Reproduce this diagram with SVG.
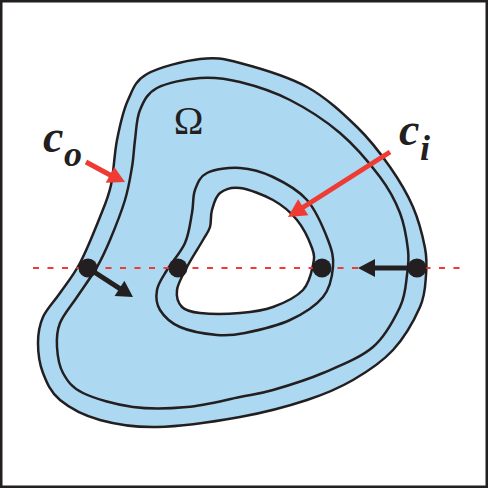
<svg xmlns="http://www.w3.org/2000/svg" width="489" height="489" viewBox="0 0 489 489">
<defs>
<style>
.curve{fill:none;stroke:#231f20;stroke-width:2.5;stroke-linejoin:round}
.lbl{font-family:"Liberation Serif","DejaVu Serif",serif;font-weight:bold;font-style:italic;fill:#231f20}
.omega{font-family:"Liberation Serif","DejaVu Serif",serif;fill:#231f20}
.red{stroke:#ee3b33;stroke-width:5;fill:none}
.redhead{fill:#ee3b33}
.blk{stroke:#231f20;stroke-width:5;fill:none}
.blkhead{fill:#231f20}
.dot{fill:#231f20}
</style>
</defs>
<rect x="0" y="0" width="489" height="489" fill="#ffffff"/>
<g id="domain">
<path fill="#acd8f2" fill-rule="evenodd" stroke="none" d="M 200,59 C 215.5,57.2 222.2,58.3 240,63 C 257.8,67.7 287.5,76.3 307,87 C 326.5,97.7 343.2,113.7 357,127 C 370.8,140.3 380.7,153.7 390,167 C 399.3,180.3 407.2,193.5 413,207 C 418.8,220.5 422.8,236.7 425,248 C 427.2,259.3 426.8,265.2 426,275 C 425.2,284.8 425.5,294.5 420,307 C 414.5,319.5 404.2,337.8 393,350 C 381.8,362.2 367.3,371.7 353,380 C 338.7,388.3 325.8,393.8 307,400 C 288.2,406.2 265,412.5 240,417 C 215,421.5 180.3,426.5 157,427 C 133.7,427.5 116.2,424.5 100,420 C 83.8,415.5 69.5,407.8 60,400 C 50.5,392.2 46.7,382.5 43,373 C 39.3,363.5 38,352.3 38,343 C 38,333.7 39.3,325.3 43,317 C 46.7,308.7 53.8,302 60,293 C 66.2,284 73.3,275.7 80,263 C 86.7,250.3 94.8,230 100,217 C 105.2,204 108.2,197.8 111,185 C 113.8,172.2 114.2,154.2 117,140 C 119.8,125.8 123,111 128,100 C 133,89 135,80.8 147,74 C 159,67.2 184.5,60.8 200,59 Z M 240,188 C 248.8,189.2 263.5,194.7 273,200 C 282.5,205.3 290.5,212 297,220 C 303.5,228 309.3,240.5 312,248 C 314.7,255.5 314.5,258 313,265 C 311.5,272 309.7,283 303,290 C 296.3,297 283.5,303.2 273,307 C 262.5,310.8 252.2,312 240,313 C 227.8,314 209.7,314 200,313 C 190.3,312 185.8,310.8 182,307 C 178.2,303.2 176.2,296.7 177,290 C 177.8,283.3 182.7,275.3 187,267 C 191.3,258.7 199.2,246.7 203,240 C 206.8,233.3 208.5,232 210,227 C 211.5,222 210.3,215.7 212,210 C 213.7,204.3 215.3,196.7 220,193 C 224.7,189.3 231.2,186.8 240,188 Z"/>
<path id="outer-boundary" class="curve" d="M 200,59 C 215.5,57.2 222.2,58.3 240,63 C 257.8,67.7 287.5,76.3 307,87 C 326.5,97.7 343.2,113.7 357,127 C 370.8,140.3 380.7,153.7 390,167 C 399.3,180.3 407.2,193.5 413,207 C 418.8,220.5 422.8,236.7 425,248 C 427.2,259.3 426.8,265.2 426,275 C 425.2,284.8 425.5,294.5 420,307 C 414.5,319.5 404.2,337.8 393,350 C 381.8,362.2 367.3,371.7 353,380 C 338.7,388.3 325.8,393.8 307,400 C 288.2,406.2 265,412.5 240,417 C 215,421.5 180.3,426.5 157,427 C 133.7,427.5 116.2,424.5 100,420 C 83.8,415.5 69.5,407.8 60,400 C 50.5,392.2 46.7,382.5 43,373 C 39.3,363.5 38,352.3 38,343 C 38,333.7 39.3,325.3 43,317 C 46.7,308.7 53.8,302 60,293 C 66.2,284 73.3,275.7 80,263 C 86.7,250.3 94.8,230 100,217 C 105.2,204 108.2,197.8 111,185 C 113.8,172.2 114.2,154.2 117,140 C 119.8,125.8 123,111 128,100 C 133,89 135,80.8 147,74 C 159,67.2 184.5,60.8 200,59 Z"/>
<path id="curve-co" class="curve" d="M 200,78 C 213.8,77 225,78.3 240,82 C 255,85.7 273.3,91.5 290,100 C 306.7,108.5 325,120.2 340,133 C 355,145.8 370,163.7 380,177 C 390,190.3 395.3,200.8 400,213 C 404.7,225.2 406.8,239.7 408,250 C 409.2,260.3 408.3,265.5 407,275 C 405.7,284.5 405.7,295 400,307 C 394.3,319 385.8,336 373,347 C 360.2,358 339.7,365.8 323,373 C 306.3,380.2 286.8,386 273,390 C 259.2,394 254.3,394.2 240,397 C 225.7,399.8 204.8,405.3 187,407 C 169.2,408.7 150.3,409.3 133,407 C 115.7,404.7 94.7,398.7 83,393 C 71.3,387.3 67.3,380.7 63,373 C 58.7,365.3 57.5,355.3 57,347 C 56.5,338.7 56.7,331.3 60,323 C 63.3,314.7 70.8,306.3 77,297 C 83.2,287.7 91.5,276.5 97,267 C 102.5,257.5 105.3,251.2 110,240 C 114.7,228.8 121.3,212.2 125,200 C 128.7,187.8 130.3,177 132,167 C 133.7,157 133.7,149.5 135,140 C 136.3,130.5 136.3,118.7 140,110 C 143.7,101.3 147,93.3 157,88 C 167,82.7 186.2,79 200,78 Z"/>
<path id="curve-ci" class="curve" d="M 240,168 C 251,168.7 261.8,171.7 273,177 C 284.2,182.3 297.8,189.5 307,200 C 316.2,210.5 323.7,228.8 328,240 C 332.3,251.2 333.8,257.5 333,267 C 332.2,276.5 330.2,288.2 323,297 C 315.8,305.8 303,314 290,320 C 277,326 257.2,330.5 245,333 C 232.8,335.5 227.8,336 217,335 C 206.2,334 189.5,331.2 180,327 C 170.5,322.8 163.8,316.2 160,310 C 156.2,303.8 155.8,296.7 157,290 C 158.2,283.3 162.3,277.8 167,270 C 171.7,262.2 180.8,252.5 185,243 C 189.2,233.5 190.3,221.8 192,213 C 193.7,204.2 192.5,196.7 195,190 C 197.5,183.3 199.5,176.7 207,173 C 214.5,169.3 229,167.3 240,168 Z"/>
<path id="hole-boundary" class="curve" d="M 240,188 C 248.8,189.2 263.5,194.7 273,200 C 282.5,205.3 290.5,212 297,220 C 303.5,228 309.3,240.5 312,248 C 314.7,255.5 314.5,258 313,265 C 311.5,272 309.7,283 303,290 C 296.3,297 283.5,303.2 273,307 C 262.5,310.8 252.2,312 240,313 C 227.8,314 209.7,314 200,313 C 190.3,312 185.8,310.8 182,307 C 178.2,303.2 176.2,296.7 177,290 C 177.8,283.3 182.7,275.3 187,267 C 191.3,258.7 199.2,246.7 203,240 C 206.8,233.3 208.5,232 210,227 C 211.5,222 210.3,215.7 212,210 C 213.7,204.3 215.3,196.7 220,193 C 224.7,189.3 231.2,186.8 240,188 Z"/>
</g>
<g id="connectors">
<line x1="33" y1="268" x2="461" y2="268" stroke="#ee3b33" stroke-width="2" stroke-dasharray="6 8.5"/>
<line class="red" x1="86" y1="162" x2="111" y2="175.5"/>
<polygon class="redhead" points="125,182 105.7,182.8 114.3,167"/>
<line class="red" x1="390" y1="152" x2="302" y2="208"/>
<polygon class="redhead" points="288,217 308.3,215.3 298.1,199.3"/>
<line class="blk" x1="88" y1="268" x2="121" y2="289.3"/>
<polygon class="blkhead" points="133,297 114.6,295.9 124.4,280.7"/>
<line class="blk" x1="418" y1="268" x2="372" y2="268"/>
<polygon class="blkhead" points="358,268 375,259 375,277"/>
</g>
<g id="points">
<circle class="dot" cx="88" cy="268" r="9.5"/>
<circle class="dot" cx="178" cy="268" r="9.5"/>
<circle class="dot" cx="322" cy="268" r="9.5"/>
<circle class="dot" cx="417" cy="268" r="9.5"/>
</g>
<g id="labels">
<text class="omega" x="188.5" y="134" text-anchor="middle" font-size="40">Ω</text>
<g id="label-co"><text class="lbl" x="43" y="152" font-size="46">c</text><text class="lbl" x="64" y="166" font-size="36">o</text></g>
<g id="label-ci"><text class="lbl" x="399" y="145" font-size="46">c</text><text class="lbl" x="420" y="160" font-size="36">i</text></g>
</g>
<rect x="1.25" y="1.25" width="485.5" height="485.5" fill="none" stroke="#231f20" stroke-width="2.5"/>
</svg>
